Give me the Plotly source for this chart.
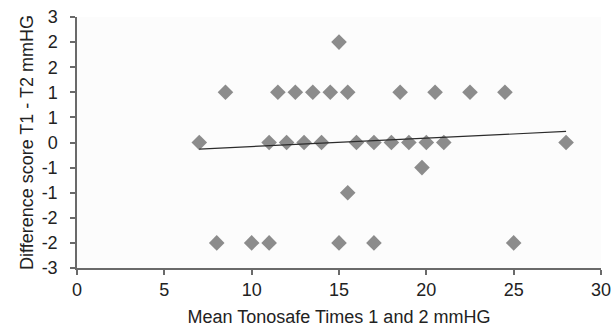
import plotly.graph_objects as go

# Data
mean_tonosafe = [7, 8.5, 8, 10, 11, 11, 11.5, 12, 12.5, 13, 13.5, 14, 14.5, 15, 15,
                 15.5, 15.5, 16, 17, 17, 18, 18.5, 19, 19.75, 20, 20.5, 21, 22.5,
                 24.5, 25, 28]
diff_score = [0, 1, -2, -2, -2, 0, 1, 0, 1, 0, 1, 0, 1, 2, -2,
              1, -1, 0, 0, -2, 0, 1, 0, -0.5, 0, 1, 0, 1,
              1, -2, 0]

trend_x = [7, 28]
trend_y = [-0.13, 0.22]

x_ticks = [0, 5, 10, 15, 20, 25, 30]
y_tickvals = [-2.5, -2, -1.5, -1, -0.5, 0, 0.5, 1, 1.5, 2, 2.5]
y_ticktext = ["-3", "-2", "-2", "-1", "-1", "0", "1", "1", "2", "2", "3"]

FONT = "Liberation Sans, Arial, Helvetica, sans-serif"
TXT = "#222222"
AX = "#6a6a6a"
FS = 18

fig = go.Figure()
fig.add_trace(go.Scatter(
    x=mean_tonosafe, y=diff_score, mode="markers",
    marker=dict(symbol="diamond", size=12, color="#8c8c8c", line=dict(width=0)),
    showlegend=False, hoverinfo="skip", cliponaxis=False))
fig.add_trace(go.Scatter(
    x=trend_x, y=trend_y, mode="lines",
    line=dict(color="#2b2b2b", width=1.2),
    showlegend=False, hoverinfo="skip"))

fig.update_layout(
    width=613, height=328,
    margin=dict(l=77, r=12, t=17, b=60, autoexpand=False),
    paper_bgcolor="white", plot_bgcolor="#fcfcfc",
    font=dict(family=FONT, size=FS, color=TXT),
    xaxis=dict(
        range=[0, 30], tickvals=x_ticks, ticktext=[str(v) for v in x_ticks],
        showgrid=False, zeroline=False, showline=True, linecolor=AX, linewidth=1.5,
        ticks="outside", ticklen=5, tickcolor=AX, tickwidth=1.5,
        tickfont=dict(size=FS, color=TXT), automargin=False,
        title=dict(text="Mean Tonosafe Times 1 and 2 mmHG", font=dict(size=FS, color=TXT), standoff=11),
    ),
    yaxis=dict(
        range=[-2.5, 2.5], tickvals=y_tickvals, ticktext=y_ticktext,
        showgrid=False, zeroline=False, showline=True, linecolor=AX, linewidth=1.5,
        ticks="outside", ticklen=5, tickcolor=AX, tickwidth=1.5, ticklabelstandoff=9,
        tickfont=dict(size=FS, color=TXT), automargin=False,
        title=dict(text="Difference score T1 - T2 mmHG", font=dict(size=FS, color=TXT), standoff=3),
    ),
)

fig.write_html("out.html", config={"displayModeBar": False},
               post_script="document.body.style.margin='0px';document.body.style.padding='0px';")
